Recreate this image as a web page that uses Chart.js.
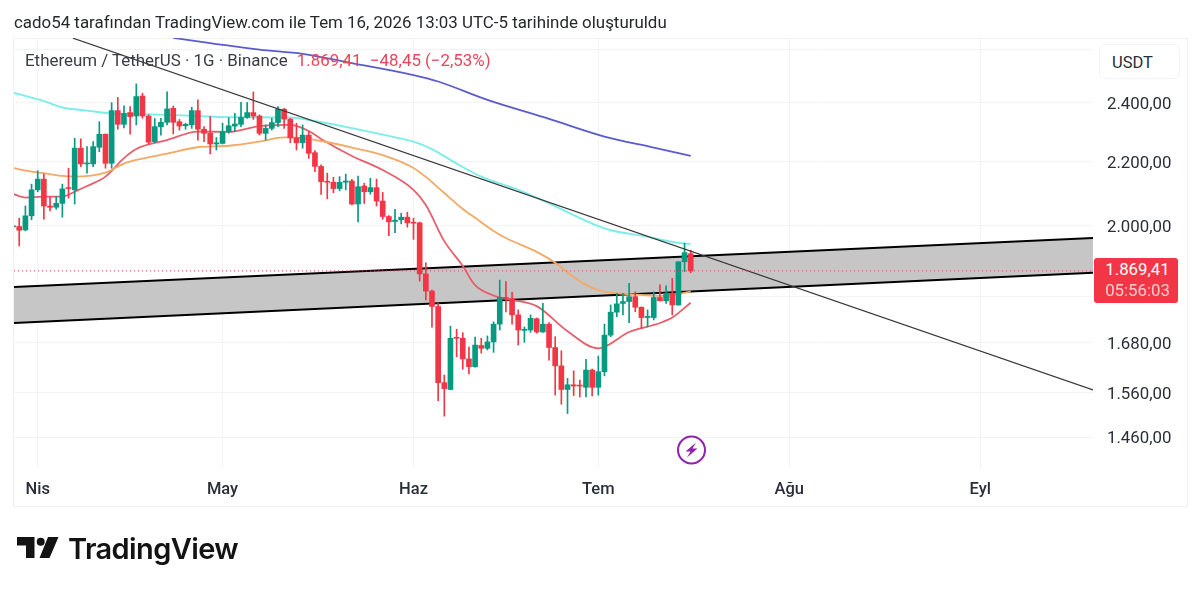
<!DOCTYPE html>
<html>
<head>
<meta charset="utf-8">
<title>ETHUSDT</title>
<script src="https://cdn.jsdelivr.net/npm/chart.js@4"></script>
<style>
  html, body { margin: 0; padding: 0; background: #fff; }
  body { width: 1200px; height: 591px; position: relative; overflow: hidden; font-family: Roboto, sans-serif; color: #131722; }
  canvas { position: absolute; left: 0; top: 0; }
  .abs { position: absolute; white-space: nowrap; }
  #frame { left: 13px; top: 38px; width: 1173px; height: 467px; border: 1px solid #f0f1f3; box-sizing: content-box; }
  #header { left: 14px; top: 12px; font-size: 16.9px; line-height: 20px; color: #26282e; }
  #legend { left: 25px; top: 50px; font-size: 16.9px; line-height: 20px; color: #3a3d45; }
  #legend span { color: #e8445a; margin-left: 5px; }
  #unit { left: 1099px; top: 44px; height: 35px; line-height: 35px; border: 1px solid #f2f3f5; border-radius: 6px; background: #fff; font-size: 16.5px; padding-left: 12px; box-sizing: border-box; width: 81px; color: #2a2e39; }
  #last { left: 1094px; top: 258px; width: 84px; height: 45px; background: #f23645; border-radius: 3px; color: #fff; text-align: center; font-size: 16.8px; line-height: 20.5px; padding-top: 1px; padding-left: 3px; box-sizing: border-box; }
  #last div + div { opacity: .75; }
  #logoText { left: 68px; top: 530px; font-family: Inter, sans-serif; font-weight: 600; font-size: 29px; line-height: 38px; letter-spacing: -0.6px; color: #131313; }
</style>
</head>
<body>
<div id="frame" class="abs"></div>
<canvas id="chart" width="1200" height="591"></canvas>
<div id="header" class="abs">cado54 tarafından TradingView.com ile Tem 16, 2026 13:03 UTC-5 tarihinde oluşturuldu</div>
<div id="legend" class="abs">Ethereum / TetherUS · 1G · Binance <span>1.869,41&nbsp; −48,45 (−2,53%)</span></div>
<div id="unit" class="abs">USDT</div>
<div id="last" class="abs"><div>1.869,41</div><div>05:56:03</div></div>
<svg class="abs" style="left:0;top:525px" width="66" height="40">
  <path d="M17 12h17.5v21h-8.5v-12.5h-9z M48 12h10.5l-9 21h-10z" fill="#131313"/>
  <circle cx="40.7" cy="16.8" r="4" fill="#131313"/>
</svg>
<div id="logoText" class="abs">TradingView</div>
<svg class="abs" style="left:676px;top:435px" width="32" height="30">
  <circle cx="15.5" cy="15" r="13.5" fill="#fff" stroke="#8e24aa" stroke-width="2"/>
  <path d="M20 7.5l-10.5 9h5l-3.5 6 10.5-9h-5z" fill="#8e24aa"/>
</svg>
<script>
// x is the candle number: 0 = 28 Mar, 110 = 16 Jul, one per day
const opens = [1996,1997,1987,2029,2109,2143,2059,2055,2067,2116,2109,2244,2192,2192,2247,2291,2194,2373,2325,2366,2354,2425,2354,2266,2317,2332,2381,2334,2320,2323,2373,2308,2294,2258,2260,2299,2319,2325,2349,2366,2354,2294,2311,2331,2378,2343,2279,2262,2288,2229,2184,2135,2133,2113,2133,2137,2065,2121,2103,2116,2074,2027,2012,2017,2025,2010,2008,1861,1814,1773,1583,1567,1693,1691,1640,1621,1673,1666,1682,1727,1797,1794,1751,1711,1712,1741,1707,1727,1668,1623,1567,1578,1577,1572,1613,1572,1609,1699,1758,1781,1786,1799,1771,1744,1744,1797,1788,1808,1777,1895,1917.86];
const highs = [1999,2022,2059,2127,2170,2159,2086,2088,2127,2178,2277,2275,2249,2266,2334,2292,2401,2420,2390,2387,2469,2435,2358,2345,2346,2440,2389,2342,2329,2385,2411,2317,2352,2280,2329,2348,2363,2402,2402,2440,2358,2323,2346,2387,2381,2346,2329,2323,2300,2236,2189,2162,2149,2151,2159,2142,2153,2130,2146,2143,2101,2030,2049,2037,2040,2022,2010,1892,1817,1781,1601,1722,1714,1705,1669,1694,1691,1697,1733,1844,1840,1811,1764,1720,1751,1743,1781,1731,1695,1660,1593,1611,1589,1639,1615,1647,1727,1777,1808,1808,1835,1812,1772,1764,1812,1831,1828,1849,1895,1948,1928];
const lows = [1993,1940,1984,2017,2103,2019,2044,2049,2025,2083,2065,2183,2162,2183,2232,2178,2178,2308,2313,2291,2323,2346,2258,2262,2288,2323,2292,2305,2308,2311,2271,2266,2225,2238,2258,2294,2300,2317,2346,2342,2288,2271,2305,2317,2311,2262,2238,2244,2210,2167,2095,2081,2100,2106,2109,2062,2011,2067,2095,2059,2019,1970,1979,2005,1995,1959,1841,1790,1719,1541,1506,1566,1645,1615,1604,1620,1654,1662,1656,1712,1759,1727,1674,1681,1706,1704,1706,1637,1554,1533,1512,1553,1550,1550,1552,1554,1599,1695,1746,1751,1731,1759,1716,1720,1738,1788,1781,1751,1776,1867,1864];
const closes = [1997,1986,2029,2109,2143,2059,2055,2067,2112,2113,2244,2192,2194,2249,2291,2194,2373,2325,2363,2352,2423,2354,2264,2317,2332,2379,2332,2319,2325,2373,2308,2294,2258,2262,2299,2320,2326,2349,2366,2354,2294,2311,2331,2378,2343,2279,2262,2288,2227,2184,2135,2133,2113,2133,2137,2065,2119,2103,2116,2074,2027,2011,2016,2025,2008,2007,1861,1814,1773,1583,1569,1691,1691,1640,1621,1674,1666,1682,1727,1797,1794,1751,1712,1714,1742,1707,1727,1668,1623,1567,1578,1575,1575,1613,1572,1609,1699,1758,1780,1786,1799,1771,1744,1747,1797,1788,1808,1777,1895,1921,1869.41];

const redDays = [0,2,5,8,10,12,15,18,20,25,30,35,40,45,48,50,55,60,65,67,70,73,75,78,80,85,90,95,100,105,107,110];
const redLine = [2096,2085,2088,2088,2103,2121,2151,2211,2241,2271,2300,2299,2319,2323,2302,2275,2218,2172,2109,2062,1954,1883,1830,1802,1793,1774,1709,1666,1707,1730,1744,1783];
const orangeDays = [0,2,5,8,10,15,18,20,25,30,35,40,44,48,50,55,60,65,67,70,73,75,78,80,85,88,90,93,95,97,100,105,108,110];
const orangeLine = [2179,2170,2162,2153,2151,2164,2193,2205,2226,2247,2252,2266,2280,2275,2268,2246,2221,2179,2150,2099,2050,2023,1984,1963,1923,1892,1865,1831,1817,1810,1806,1801,1806,1813];
const cyanDays = [0,5,8,12,16,20,25,30,35,45,48,55,63,65,68,72,76,82,87,95,97,102,108,110];
const cyanLine = [2437,2407,2384,2373,2363,2361,2358,2354,2350,2349,2340,2312,2276,2266,2241,2193,2151,2109,2067,1998,1986,1970,1949,1946];
const blueDays = [26,32,40,47,55,65,69,77,87,96,104,110];
const blueLine = [2644,2624,2598,2582,2547,2502,2478,2411,2344,2283,2246,2218];

// drawings on the chart
const trendDays = [9.73,175.3];
const trendPrices = [2643,1566];
const channelDays = [0.15,175.3];
const channelTop = [1825,1963];
const channelBottom = [1730,1864];
const lastPrice = 1869.41;

const monthDays = [4,34,65,95,126,157];
const monthLabels = ['Nis','May','Haz','Tem','Ağu','Eyl'];
const priceTicks = [2600,2400,2200,2000,1800,1680,1560,1460];
const hiddenPriceLabels = [2600,1800]; // under the USDT and last price boxes

const upColor = '#089981';
const downColor = '#f23645';

function zip(xs, ys) {
    return xs.map((x, i) => ({ x: x, y: ys[i] }));
}

function lineSet(xs, ys, color, width, order, extra) {
    return Object.assign({
        type: 'line',
        data: zip(xs, ys),
        borderColor: color,
        borderWidth: width,
        pointRadius: 0,
        fill: false,
        order: order
    }, extra || {});
}

const candleColors = closes.map((c, i) => c >= opens[i] ? upColor : downColor);
const smooth = { cubicInterpolationMode: 'monotone' };

new Chart(document.getElementById('chart').getContext('2d'), {
    type: 'bar',
    data: {
        datasets: [
            // the grey channel goes first, its fill targets dataset 1
            lineSet(channelDays, channelTop, '#000', 2, 20, {
                fill: { target: 1 },
                backgroundColor: '#c6c6c6'
            }),
            lineSet(channelDays, channelBottom, '#000', 2, 19),
            lineSet(blueDays, blueLine, '#5b5bd0', 1.8, 9, smooth),
            lineSet(cyanDays, cyanLine, '#7aefe8', 1.9, 9, smooth),
            lineSet(orangeDays, orangeLine, '#f4a964', 1.8, 9, smooth),
            lineSet(redDays, redLine, '#e5606c', 1.8, 9, smooth),
            {
                data: lows.map((l, i) => ({ x: i, y: [l, highs[i]] })),
                backgroundColor: candleColors,
                barThickness: 1,
                grouped: false,
                order: 6
            },
            {
                data: opens.map((o, i) => ({ x: i, y: [o, closes[i]] })),
                backgroundColor: candleColors,
                barThickness: 5,
                minBarLength: 1,
                grouped: false,
                order: 5
            },
            lineSet(trendDays, trendPrices, '#3a3a3a', 1.2, 3),
            lineSet(channelDays, [lastPrice, lastPrice], '#f23645', 1, 2, { borderDash: [1, 3] })
        ]
    },
    options: {
        responsive: false,
        animation: false,
        layout: { padding: { left: 14, top: 38, right: 0, bottom: 86 } },
        plugins: { legend: { display: false }, tooltip: { enabled: false } },
        scales: {
            x: {
                type: 'linear',
                min: 0.15,
                max: 175.3,
                offset: false,
                afterFit: s => { s.height = 37; },
                afterBuildTicks: s => { s.ticks = monthDays.map(v => ({ value: v })); },
                grid: { color: '#f2f3f5', drawTicks: false, offset: false },
                border: { display: false },
                ticks: {
                    autoSkip: false,
                    maxRotation: 0,
                    padding: 12,
                    color: '#2a2e39',
                    font: { family: 'Roboto', size: 16.5, weight: '500' },
                    callback: v => monthLabels[monthDays.indexOf(v)]
                }
            },
            y: {
                type: 'logarithmic',
                position: 'right',
                min: 1394.2,
                max: 2643.7,
                afterFit: s => { s.width = 107; },
                afterBuildTicks: s => { s.ticks = priceTicks.map(v => ({ value: v })); },
                grid: { color: '#f2f3f5', drawTicks: false },
                border: { display: false },
                ticks: {
                    autoSkip: false,
                    padding: 14,
                    labelOffset: 2,
                    color: '#2a2e39',
                    font: { family: 'Roboto', size: 16.8 },
                    callback: v => hiddenPriceLabels.includes(v) ? '' : v.toLocaleString('tr-TR', { minimumFractionDigits: 2, maximumFractionDigits: 2 })
                }
            }
        }
    }
});
</script>
</body>
</html>
